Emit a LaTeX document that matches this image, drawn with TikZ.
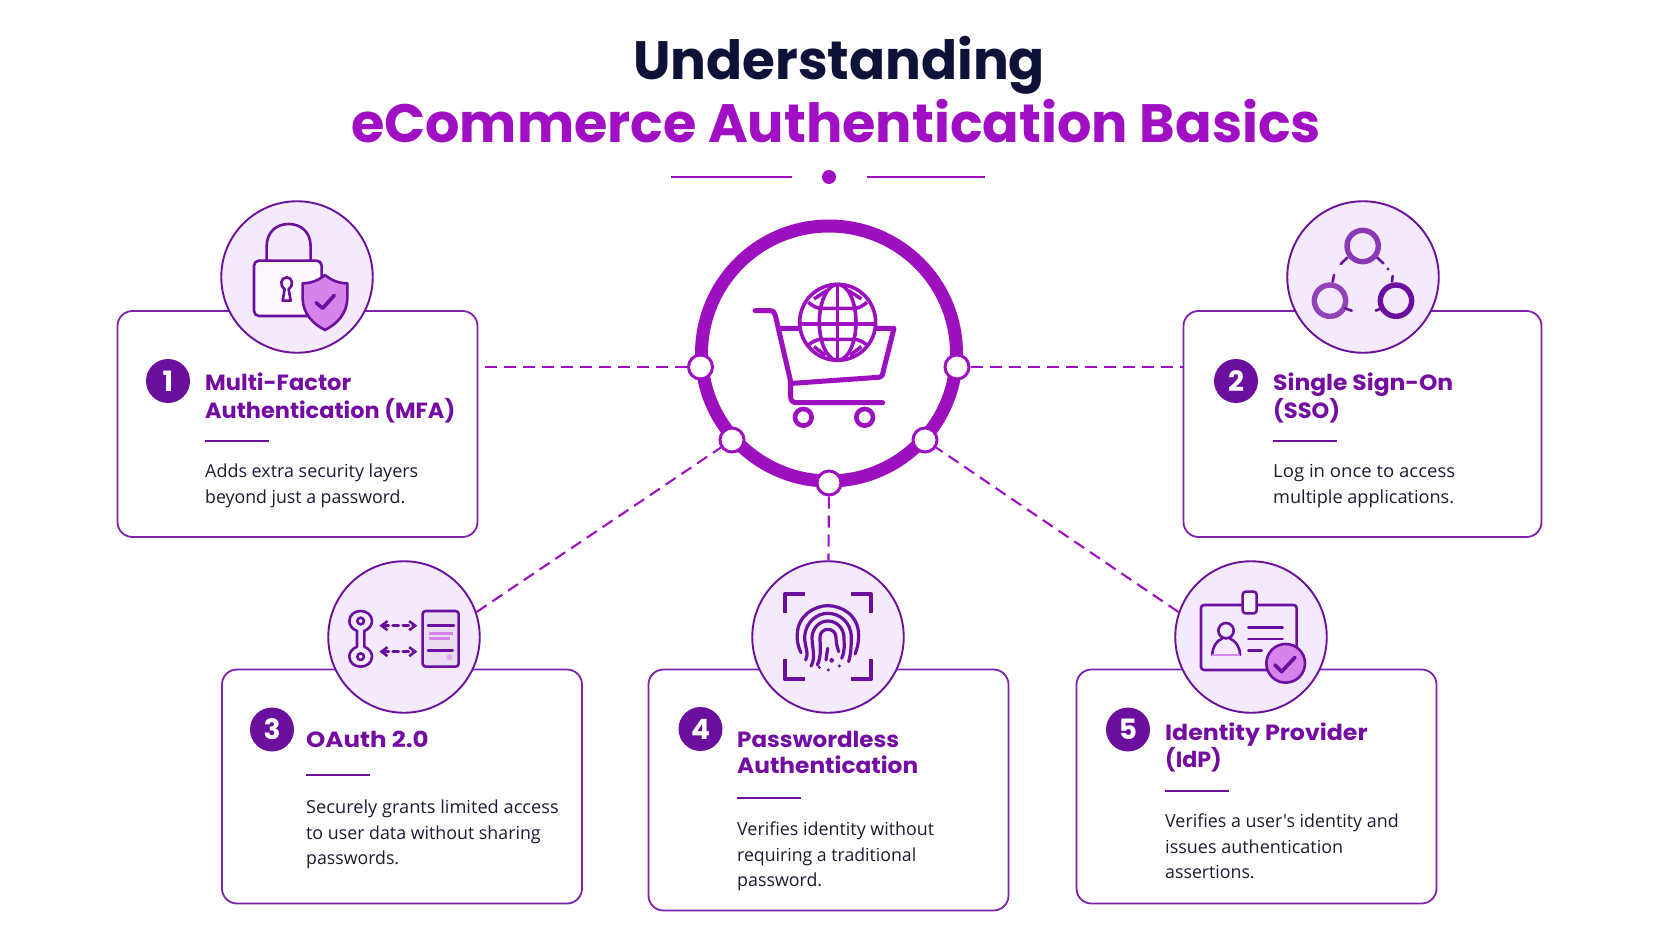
\documentclass[tikz,border=0pt]{standalone}
\usepackage{graphicx}
\usepackage{fontspec}
\setmainfont{Poppins}
\newfontfamily\bodyfont{Open Sans}
\usetikzlibrary{arrows.meta}
\newcommand{\fitx}[2]{\resizebox{#1pt}{\height}{#2}}
\definecolor{navy}{HTML}{0F1238}
\definecolor{vio}{HTML}{A00FC4}
\definecolor{ringc}{HTML}{9C10C0}
\definecolor{deep}{HTML}{6A0F9E}
\definecolor{ttlc}{HTML}{740CA4}
\definecolor{edge}{HTML}{7E22AE}
\definecolor{pale}{HTML}{F4EAFB}
\definecolor{ink}{HTML}{1D1B33}
\definecolor{glow}{HTML}{D683EC}
\tikzset{
 cardbox/.style={draw=edge,line width=1.8pt,fill=white,rounded corners=15pt,inner sep=0pt},
 iconcirc/.style={circle,draw=deep,line width=1.9pt,fill=pale,minimum size=151.5pt,inner sep=0pt},
 badge/.style={circle,fill=deep,text=white,minimum size=44pt,inner sep=0pt,font=\fontsize{28}{28}\selectfont\bfseries},
 ttl/.style={anchor=base west,inner sep=0pt,text=ttlc,font=\fontsize{22}{22}\selectfont\bfseries},
 body/.style={anchor=base west,inner sep=0pt,text=ink,font=\bodyfont\fontsize{18}{18}\selectfont},
 rulel/.style={draw=deep,line width=2pt},
 hub/.style={circle,draw=ringc,line width=3pt,fill=white,minimum size=24pt,inner sep=0pt},
 dashc/.style={draw=vio,line width=2.1pt,dash pattern=on 12pt off 7pt},
 ico/.style={draw=deep,line width=2.6pt,line cap=round,line join=round},
 tick/.style={ico,line width=3.6pt},
 cartl/.style={draw=ringc,line width=5pt,line cap=round,line join=round},
 globel/.style={draw=ringc,line width=3.6pt},
}
\begin{document}
\begin{tikzpicture}[x=1pt,y=-1pt]
\useasboundingbox (0,0) rectangle (1672,941);
\fill[white] (0,0) rectangle (1672,941);
% heading
\node[anchor=base,inner sep=0pt,text=navy,font=\fontsize{54}{54}\selectfont\bfseries] (head1) at (839,80) {\fitx{412}{Understanding}};
\node[anchor=base,inner sep=0pt,text=vio,font=\fontsize{54}{54}\selectfont\bfseries] (head2) at (836,143) {\fitx{970}{eCommerce Authentication Basics}};
\coordinate (divA) at (671,177); \coordinate (divB) at (792,177);
\coordinate (divC) at (867,177); \coordinate (divD) at (985,177);
\draw[vio,line width=2.2pt] (divA) -- (divB) (divC) -- (divD);
\node[circle,fill=vio,minimum size=14pt,inner sep=0pt] (divdot) at (829,177) {};
% cards
\node[cardbox,minimum width=360pt,minimum height=226pt] (card1) at (297.5,424) {};
\node[cardbox,minimum width=358pt,minimum height=226pt] (card2) at (1362.5,424) {};
\node[cardbox,minimum width=360pt,minimum height=234pt] (card3) at (402,786.5) {};
\node[cardbox,minimum width=360pt,minimum height=241pt] (card4) at (828.5,790) {};
\node[cardbox,minimum width=360pt,minimum height=234pt] (card5) at (1256.5,786.5) {};
% icon circles
\node[iconcirc] (circ1) at (297,277) {};
\node[iconcirc] (circ2) at (1363,277) {};
\node[iconcirc] (circ3) at (404,637) {};
\node[iconcirc] (circ4) at (828,637) {};
\node[iconcirc] (circ5) at (1251,637) {};
% ring and hubs
\node[circle,draw=ringc,line width=13pt,minimum size=255pt,inner sep=0pt] (ring) at (829,353.5) {};
\node[hub] (hubL) at (700.5,367) {};
\node[hub] (hubR) at (957,367) {};
\node[hub] (hubLL) at (732,440) {};
\node[hub] (hubLR) at (925,440) {};
\node[hub] (hubB) at (829,483) {};
% connectors
\draw[dashc] (hubL) -- (card1.east |- hubL);
\draw[dashc] (hubR) -- (card2.west |- hubR);
\draw[dashc] (circ3.19) -- (hubLL);
\draw[dashc] (hubB) -- (circ4);
\draw[dashc] (circ5.161) -- (hubLR);
% cart
\begin{scope}[shift={(670,200)},x=0.3333pt,y=-0.3333pt]
\draw[cartl] (255,332) -- (300,332) .. controls (310,332) and (314,338) .. (316,346) -- (362,545) -- (362,590) .. controls (362,602) and (368,608) .. (380,608) -- (638,608);
\draw[cartl] (335,385) -- (672,385) -- (637,525) .. controls (635,530) and (630,532) .. (625,532) -- (368,550);
\draw[ringc,line width=4.6pt] (400,652) circle[radius=25] (584,652) circle[radius=25];
\draw[globel,fill=white] (503,367) circle[radius=114];
\draw[globel] (503,253) -- (503,481) (389,372) -- (617,372);
\draw[globel] (415,307) .. controls (428,318) and (440,325) .. (455,325) -- (551,325) .. controls (566,325) and (578,318) .. (591,307);
\draw[globel] (415,435) .. controls (428,425) and (440,418) .. (455,418) -- (551,418) .. controls (566,418) and (578,425) .. (591,435);
\draw[globel] (503,367) ellipse[x radius=55,y radius=114];
\draw[globel] (432,297) -- (470,272) (574,297) -- (536,272) (432,440) -- (466,466) (574,440) -- (540,466);
\end{scope}
% lock
\begin{scope}[shift={(100,190)},x=0.3333pt,y=-0.3333pt]
\draw[ico] (500,212) -- (500,170) .. controls (500,125) and (530,102) .. (566,102) .. controls (602,102) and (632,125) .. (632,170) -- (632,212);
\draw[ico,fill=pale!40!white,rounded corners=5pt] (462,212) rectangle (665,378);
\draw[ico] (548,332) -- (572,332) -- (566,298) .. controls (582,288) and (578,262) .. (560,262) .. controls (542,262) and (538,288) .. (554,298) -- cycle;
\draw[ico,fill=glow] (675,255) .. controls (695,272) and (718,280) .. (742,280) -- (742,325) .. controls (742,370) and (710,403) .. (675,420) .. controls (640,403) and (608,370) .. (608,325) -- (608,280) .. controls (632,280) and (655,272) .. (675,255) -- cycle;
\draw[tick] (648,338) -- (668,355) -- (703,316);
\end{scope}
% sso
\begin{scope}[shift={(1270,190)},x=0.3333pt,y=-0.3333pt]
\draw[draw=edge!90!white,line width=5.4pt] (278,168) circle[radius=47];
\draw[draw=edge!85!white,line width=5.4pt] (180,332) circle[radius=47];
\draw[draw=deep,line width=5.4pt] (378,332) circle[radius=47];
\draw[ico] (232,203) -- (212,222) (322,203) -- (340,220) (368,258) -- (366,275) (192,255) -- (188,275) (225,355) -- (245,362) (335,355) -- (317,362);
\fill[deep] (354,237) circle[radius=5];
\end{scope}
% oauth
\begin{scope}[shift={(310,550)},x=0.3333pt,y=-0.3333pt]
\draw[ico] (141,243) -- (141,290) .. controls (125,297) and (118,308) .. (118,320) .. controls (118,338) and (134,350) .. (152,350) .. controls (170,350) and (186,338) .. (186,320) .. controls (186,308) and (179,297) .. (163,290) -- (163,243) .. controls (179,236) and (186,225) .. (186,213) .. controls (186,195) and (170,183) .. (152,183) .. controls (134,183) and (118,195) .. (118,213) .. controls (118,225) and (125,236) .. (141,243) -- cycle;
\draw[ico] (152,213) circle[radius=10] (152,320) circle[radius=10];
\draw[ico,dash pattern=on 6pt off 4pt,{Straight Barb[length=6pt,width=9pt]}-{Straight Barb[length=6pt,width=9pt]}] (208,227) -- (322,227);
\draw[ico,dash pattern=on 6pt off 4pt,{Straight Barb[length=6pt,width=9pt]}-{Straight Barb[length=6pt,width=9pt]}] (208,305) -- (322,305);
\draw[ico,fill=deep!15!white,rounded corners=3pt] (338,183) rectangle (446,350);
\draw[ico] (354,226) -- (432,226) (354,301) -- (428,301);
\draw[glow,line width=2.4pt] (356,250) -- (430,250) (356,265) -- (420,265);
\fill[glow!70!white] (418,322) circle[radius=9];
\end{scope}
% fingerprint
\begin{scope}[shift={(740,550)},x=0.3333pt,y=-0.3333pt,ico/.append style={line width=3.2pt}]
\draw[ico,line width=4.2pt,line cap=butt] (135,190) -- (135,133) -- (195,133) (333,133) -- (392,133) -- (392,190) (135,328) -- (135,388) -- (195,388) (333,388) -- (392,388) -- (392,328);
\draw[ico] (183,308) .. controls (172,285) and (170,265) .. (172,250) .. controls (175,195) and (225,167) .. (263,167) .. controls (305,167) and (355,195) .. (356,255) .. controls (356,280) and (352,295) .. (345,312);
\draw[ico] (197,330) .. controls (208,312) and (194,290) .. (194,262) .. controls (196,215) and (232,190) .. (263,190) .. controls (298,190) and (333,215) .. (334,262) .. controls (334,290) and (332,315) .. (326,335);
\draw[ico] (213,348) .. controls (228,325) and (216,290) .. (216,262) .. controls (218,232) and (240,213) .. (263,213) .. controls (288,213) and (311,232) .. (312,262) .. controls (312,285) and (316,300) .. (305,325);
\draw[ico] (232,345) .. controls (245,320) and (240,285) .. (240,262) .. controls (240,248) and (250,238) .. (263,238) .. controls (278,238) and (288,248) .. (288,262) .. controls (288,280) and (292,290) .. (296,305);
\draw[ico] (263,295) -- (258,330);
\fill[deep] (275,331) circle[radius=7] (238,352) circle[radius=5] (265,360) circle[radius=5] (298,348) circle[radius=5];
\end{scope}
% id card
\begin{scope}[shift={(1160,550)},x=0.3333pt,y=-0.3333pt]
\draw[ico,rounded corners=3pt] (123,165) rectangle (410,360);
\draw[ico,fill=pale!50!white,rounded corners=3pt] (248,125) rectangle (290,190);
\draw[ico] (198,242) circle[radius=23];
\draw[ico] (157,315) .. controls (157,290) and (170,272) .. (186,266) (210,266) .. controls (226,272) and (240,290) .. (240,315);
\draw[glow,line width=2.4pt] (157,315) -- (240,315);
\draw[ico] (265,232) -- (368,232) (265,267) -- (368,267) (265,302) -- (305,302);
\draw[ico,fill=glow] (377,340) circle[radius=58];
\draw[tick] (345,345) -- (365,365) -- (405,322);
\end{scope}
% card 1
\node[badge] (bad1) at (168,381) {1};
\node[ttl] (t1a) at (205,390) {\fitx{146}{Multi-Factor}};
\node[ttl] (t1b) at (205,418) {\fitx{250}{Authentication (MFA)}};
\coordinate (r1a) at (205,441); \coordinate (r1b) at (269,441);
\draw[rulel] (r1a) -- (r1b);
\node[body] (d1a) at (205,477) {\fitx{213}{Adds extra security layers}};
\node[body] (d1b) at (205,503) {\fitx{200}{beyond just a password.}};
% card 2
\node[badge] (bad2) at (1236,381) {2};
\node[ttl] (t2a) at (1273,390) {\fitx{180}{Single Sign-On}};
\node[ttl] (t2b) at (1273,418) {\fitx{67}{(SSO)}};
\coordinate (r2a) at (1273,441); \coordinate (r2b) at (1337,441);
\draw[rulel] (r2a) -- (r2b);
\node[body] (d2a) at (1273,477) {\fitx{182}{Log in once to access}};
\node[body] (d2b) at (1273,503) {\fitx{181}{multiple applications.}};
% card 3
\node[badge] (bad3) at (272,729.5) {3};
\node[ttl] (t3a) at (306,747) {\fitx{122.5}{OAuth 2.0}};
\coordinate (r3a) at (306,775); \coordinate (r3b) at (370,775);
\draw[rulel] (r3a) -- (r3b);
\node[body] (d3a) at (306,813) {\fitx{252.5}{Securely grants limited access}};
\node[body] (d3b) at (306,839) {\fitx{234.5}{to user data without sharing}};
\node[body] (d3c) at (306,864) {\fitx{93}{passwords.}};
% card 4
\node[badge] (bad4) at (700.5,729) {4};
\node[ttl] (t4a) at (737,747) {\fitx{162}{Passwordless}};
\node[ttl] (t4b) at (737,773.5) {\fitx{181}{Authentication}};
\coordinate (r4a) at (737,797.5); \coordinate (r4b) at (801,797.5);
\draw[rulel] (r4a) -- (r4b);
\node[body] (d4a) at (737,835) {\fitx{197}{Verifies identity without}};
\node[body] (d4b) at (737,861) {\fitx{179}{requiring a traditional}};
\node[body] (d4c) at (737,886) {\fitx{85}{password.}};
% card 5
\node[badge] (bad5) at (1128,729.5) {5};
\node[ttl] (t5a) at (1165,740) {\fitx{202.5}{Identity Provider}};
\node[ttl] (t5b) at (1165,767.5) {\fitx{56.5}{(IdP)}};
\coordinate (r5a) at (1165,791); \coordinate (r5b) at (1229,791);
\draw[rulel] (r5a) -- (r5b);
\node[body] (d5a) at (1165,827) {\fitx{233.5}{Verifies a user's identity and}};
\node[body] (d5b) at (1165,853) {\fitx{178}{issues authentication}};
\node[body] (d5c) at (1165,878) {\fitx{89.5}{assertions.}};
\end{tikzpicture}
\end{document}
